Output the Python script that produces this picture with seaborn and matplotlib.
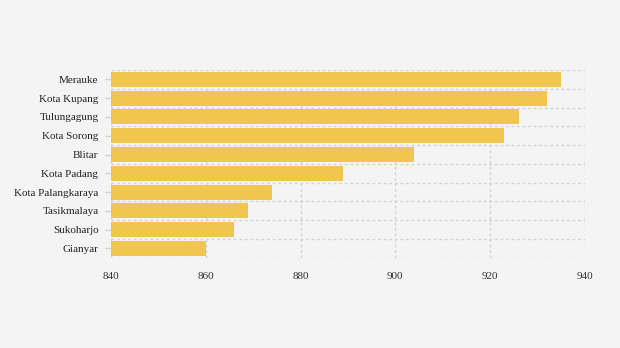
import matplotlib
matplotlib.use("Agg")
import matplotlib.pyplot as plt
import seaborn as sns
import pandas as pd
import numpy as np

cities = ["Merauke", "Kota Kupang", "Tulungagung", "Kota Sorong", "Blitar",
          "Kota Padang", "Kota Palangkaraya", "Tasikmalaya", "Sukoharjo", "Gianyar"]
values = [935, 932, 926, 923, 904, 889, 874, 869, 866, 860]
x_ticks = [840, 860, 880, 900, 920, 940]

df = pd.DataFrame({"city": cities, "value": values})

sns.set_theme(style="white")
plt.rcParams["font.family"] = ["Liberation Serif", "DejaVu Serif"]

bg = "#f4f4f4"
fig = plt.figure(figsize=(6.2, 3.48), dpi=100, facecolor=bg)
ax = fig.add_axes([0.179, 0.259, 0.7645, 0.54])
ax.set_facecolor(bg)

sns.barplot(data=df, x="value", y="city", color="#f0c651", saturation=1,
            width=0.8, ax=ax, zorder=2, edgecolor="none", linewidth=0)

ax.set_xlim(840, 940)
ax.set_ylim(len(cities) - 0.5, -0.5)
ax.set_xticks(x_ticks)
ax.set_xticklabels([str(t) for t in x_ticks])
ax.set_yticks(range(len(cities)))
ax.set_yticks(np.arange(-0.5, len(cities), 1.0), minor=True)

grid_kw = dict(color="#d3d3d3", linestyle=(0, (2, 2)), linewidth=1.0)
ax.grid(axis="x", which="major", zorder=0, **grid_kw)
ax.grid(axis="y", which="minor", zorder=0, **grid_kw)
ax.set_axisbelow(True)

for s in ax.spines.values():
    s.set_visible(False)

ax.tick_params(axis="y", which="major", length=4, width=1, color="#d3d3d3",
               pad=5, labelsize=8, labelcolor="#222222", left=True)
ax.tick_params(axis="y", which="minor", length=0)
ax.tick_params(axis="x", length=0, pad=10, labelsize=8, labelcolor="#333333")
ax.set_xlabel("")
ax.set_ylabel("")

fig.savefig("out.png", dpi=100, facecolor=bg)
